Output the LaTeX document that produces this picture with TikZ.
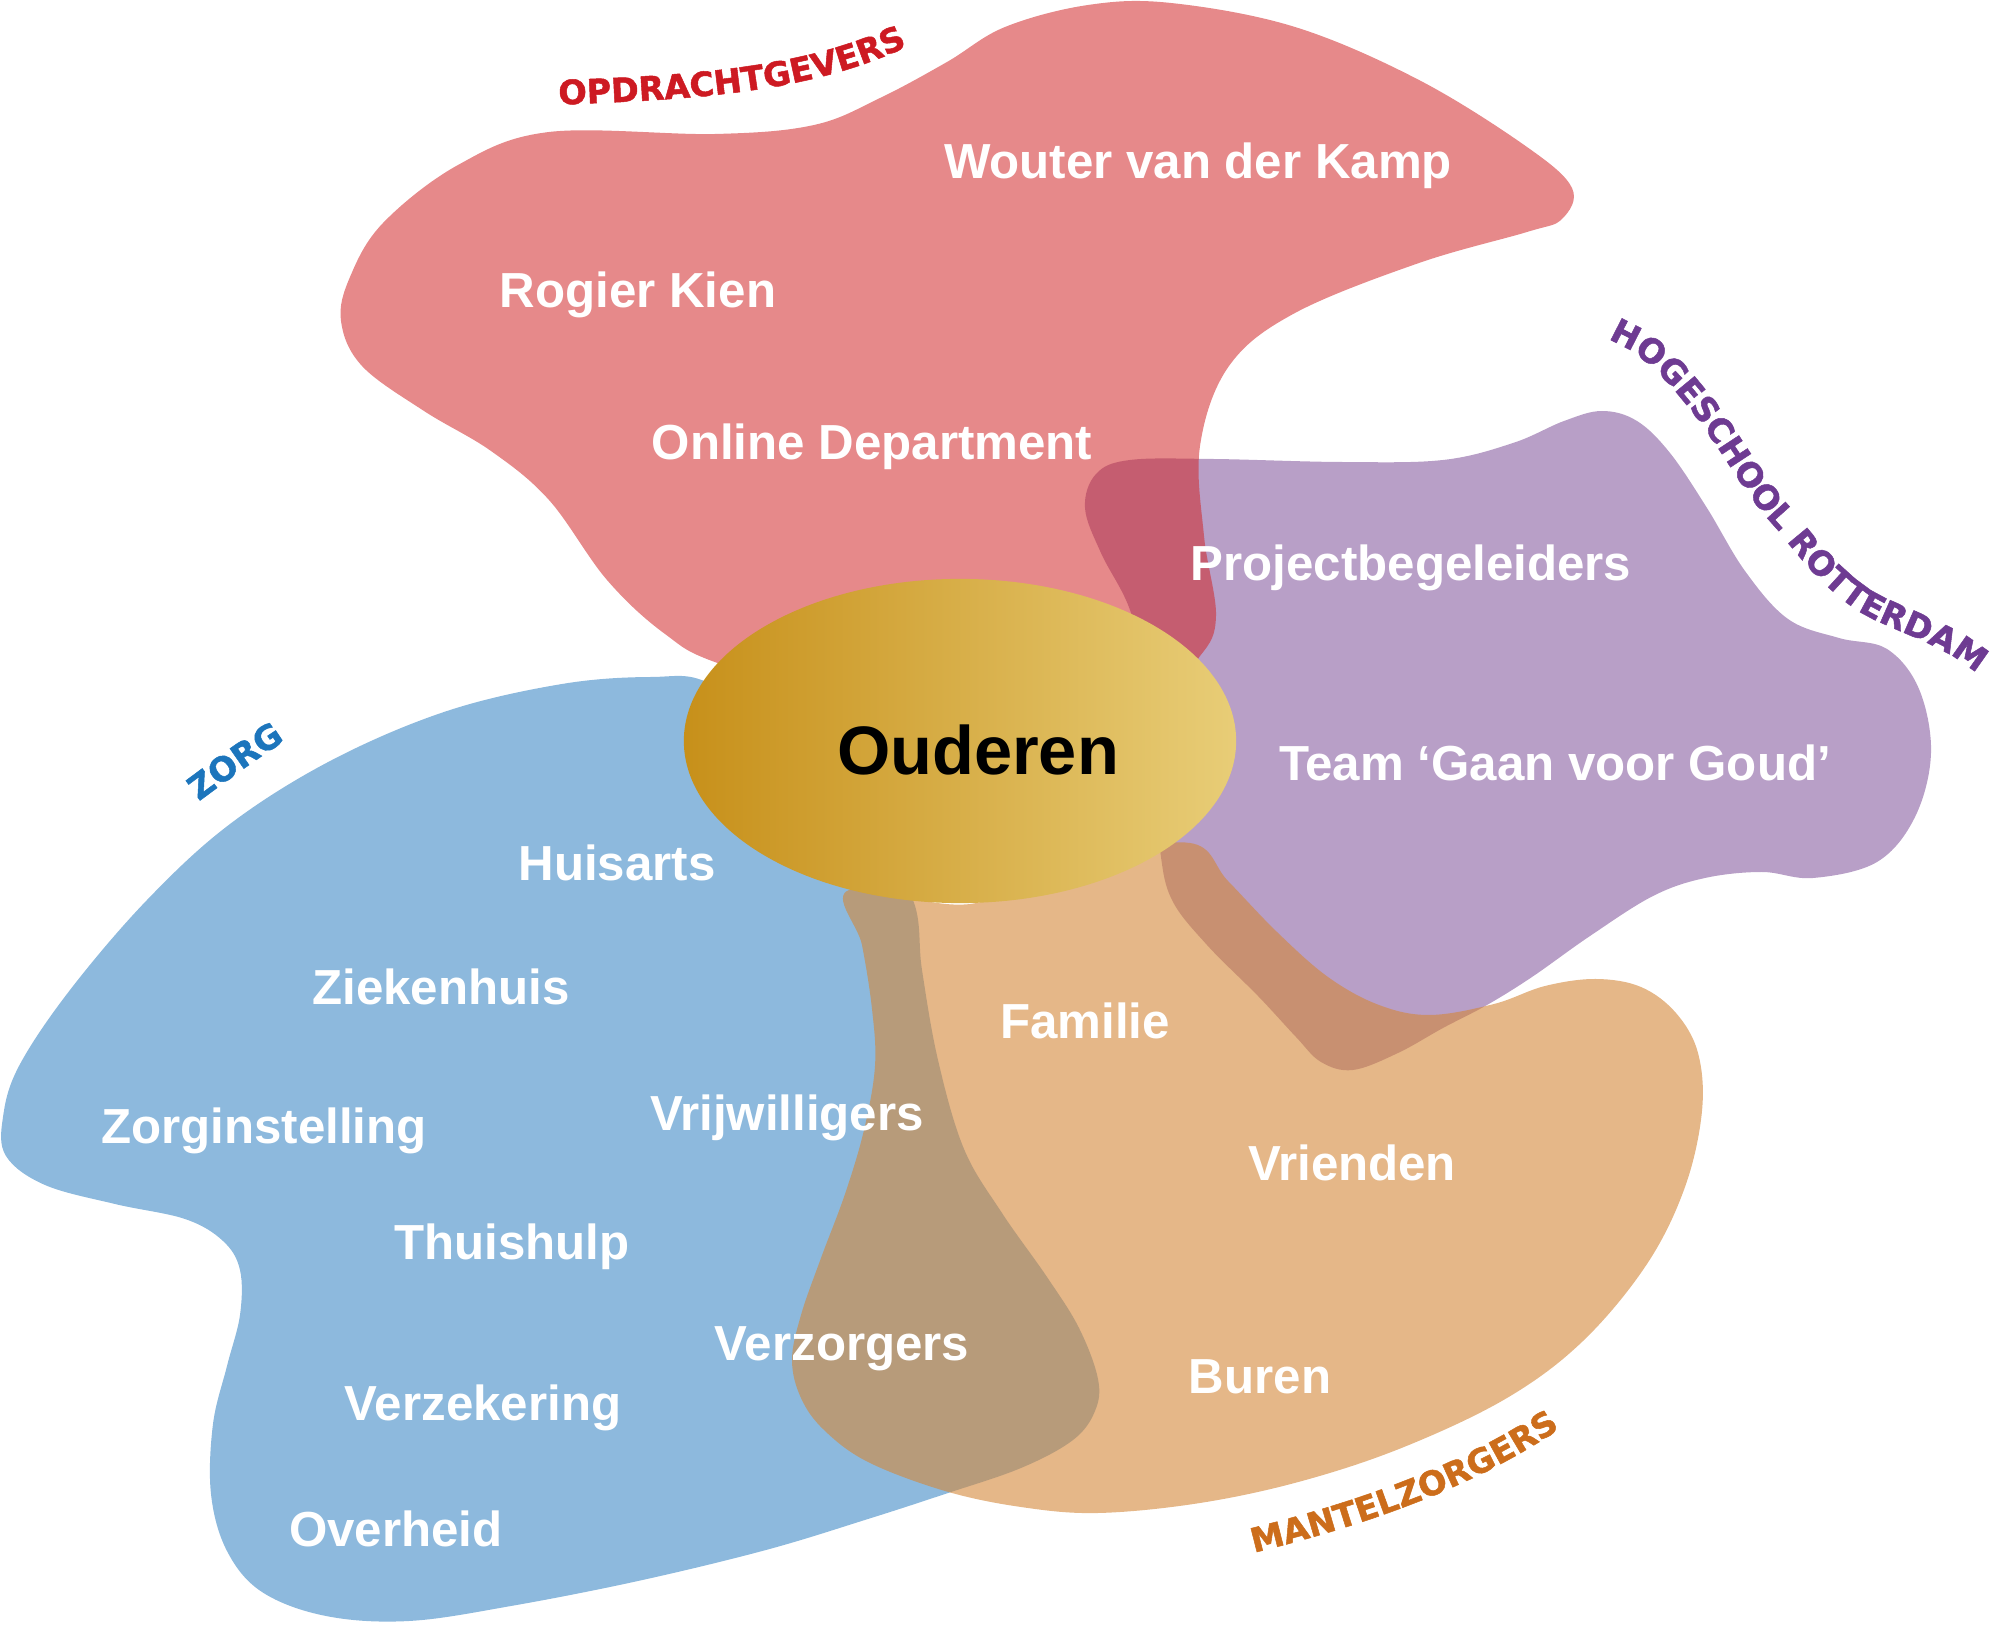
\documentclass[tikz,border=0pt]{standalone}
\usepackage{fontspec}
\setmainfont{Liberation Sans}
\newfontfamily\curvefamily{DejaVu Sans}[BoldFeatures={FakeBold=1.5}]
\usetikzlibrary{shapes.geometric,decorations.text}

\definecolor{opdrFill}{RGB}{209,37,38}
\definecolor{hogeFill}{RGB}{124,77,151}
\definecolor{zorgFill}{RGB}{44,126,192}
\definecolor{mantFill}{RGB}{212,135,57}
\definecolor{opdrText}{RGB}{205,26,34}
\definecolor{hogeText}{RGB}{110,59,146}
\definecolor{zorgText}{RGB}{28,117,188}
\definecolor{mantText}{RGB}{204,109,27}
\definecolor{goudDark}{RGB}{199,144,26}
\definecolor{goudLight}{RGB}{232,205,119}

\newcommand\curvefont{\curvefamily\bfseries\fontsize{9.5}{11}\selectfont}

\begin{document}
\begin{tikzpicture}[
    x=0.01cm, y=-0.01cm,
    blob/.style={fill opacity=0.54, draw=none},
    member/.style={text=white, font=\fontsize{14}{16}\selectfont\bfseries, anchor=base, inner sep=0pt},
    curved/.style 2 args={decorate, decoration={text along path, text align=center, text color=#1, text={|\curvefont|#2}}}
]
\useasboundingbox (0,0) rectangle (2002,1625);

% Zorg
\fill[blob, fill=zorgFill] plot[smooth cycle, tension=0.6] coordinates {
    (913,900) (922,970) (938,1060) (964,1149) (1002,1213) (1047,1277) (1079,1328)
    (1098,1379) (1095,1411) (1073,1440) (1021,1468) (945,1494) (868,1519) (766,1550)
    (638,1581) (511,1606) (409,1621) (326,1616) (262,1592) (227,1551) (211,1494)
    (213,1424) (227,1366) (240,1315) (240,1270) (223,1241) (185,1219) (115,1204)
    (45,1185) (6,1156) (3,1117) (19,1066) (70,990) (147,900) (230,824) (332,760)
    (447,711) (562,684) (651,677) (709,683) (792,741) (868,830)};

% Hogeschool Rotterdam
\fill[blob, fill=hogeFill] plot[smooth cycle, tension=0.6] coordinates {
    (1085,508) (1096,474) (1130,460) (1213,459) (1341,462) (1443,460) (1513,443)
    (1564,421) (1602,411) (1637,421) (1670,453) (1707,508) (1745,571) (1788,619)
    (1839,638) (1887,649) (1919,689) (1931,753) (1915,817) (1877,862) (1813,878)
    (1762,872) (1705,878) (1653,896) (1590,936) (1532,977) (1487,1005) (1443,1028)
    (1398,1053) (1353,1070) (1321,1062) (1296,1037) (1258,996) (1207,945)
    (1172,900) (1160,850) (1152,760) (1145,680) (1130,610) (1101,553)};

% Opdrachtgevers
\fill[blob, fill=opdrFill] plot[smooth cycle, tension=0.6] coordinates {
    (341,321) (350,277) (383,223) (458,165) (549,132) (715,134) (814,125) (880,98)
    (947,62) (1005,27) (1088,5) (1171,3) (1295,27) (1419,80) (1527,147) (1572,188)
    (1562,219) (1527,232) (1419,263) (1295,313) (1229,366) (1200,446) (1204,536)
    (1216,616) (1200,656) (1149,700) (894,715) (723,665) (665,634) (607,580)
    (549,500) (491,451) (424,411) (362,366)};

% Mantelzorgers
\fill[blob, fill=mantFill, fill opacity=0.6] plot[smooth cycle, tension=0.6] coordinates {
    (849,890) (862,945) (872,1009) (875,1066) (864,1130) (845,1194) (821,1258)
    (801,1315) (792,1360) (801,1398) (824,1430) (868,1462) (945,1491) (1021,1507)
    (1098,1513) (1200,1503) (1302,1481) (1404,1447) (1507,1398) (1583,1341)
    (1647,1264) (1685,1187) (1702,1111) (1698,1053) (1676,1013) (1641,987)
    (1596,979) (1545,986) (1494,1004) (1430,1015) (1379,1005) (1328,977)
    (1277,932) (1228,881) (1190,843) (1085,860) (970,904)};

% Ouderen
\node[ellipse, minimum width=5.52cm, minimum height=3.24cm, inner sep=0pt,
    left color=goudDark, middle color=goudLight, right color=goudLight] (ellips) at (960,741) {};
\node[font=\fontsize{19.5}{22}\selectfont\bfseries, anchor=base, inner sep=0pt] (ouderen) at (978,775) {Ouderen};

% Namen
\node[member] (wouter) at (1198,179) {Wouter van der Kamp};
\node[member] (rogier) at (638,308) {Rogier Kien};
\node[member] (online) at (872,460) {Online Department};
\node[member] (projbeg) at (1411,581) {Projectbegeleiders};
\node[member] (teamgoud) at (1555,781) {Team ‘Gaan voor Goud’};
\node[member] (huisarts) at (617,881) {Huisarts};
\node[member] (ziekenhuis) at (441,1005) {Ziekenhuis};
\node[member] (zorginst) at (264,1144) {Zorginstelling};
\node[member] (vrijw) at (787,1131) {Vrijwilligers};
\node[member] (thuishulp) at (512,1260) {Thuishulp};
\node[member] (verzorgers) at (842,1360) {Verzorgers};
\node[member] (verzekering) at (483,1420) {Verzekering};
\node[member] (overheid) at (396,1546) {Overheid};
\node[member] (familie) at (1085,1039) {Familie};
\node[member] (vrienden) at (1352,1181) {Vrienden};
\node[member] (buren) at (1260,1393) {Buren};

% Groepen
\path[curved={opdrText}{OPDRACHTGEVERS}] (545,105) .. controls (700,100) and (820,92) .. (920,40);
\path[curved={zorgText}{ZORG}] (185,812) .. controls (220,785) and (262,755) .. (300,731);
\path[curved={mantText}{MANTELZORGERS}] (1240,1556) .. controls (1350,1530) and (1475,1490) .. (1572,1420);
\path[curved={hogeText}{HOGESCHOOL ROTTERDAM}] (1598,336) .. controls (1645,350) and (1670,385) .. (1694,414)
    .. controls (1725,455) and (1745,495) .. (1777,529) .. controls (1805,565) and (1835,600) .. (1871,618)
    .. controls (1910,637) and (1955,650) .. (1984,681);

\end{tikzpicture}
\end{document}
